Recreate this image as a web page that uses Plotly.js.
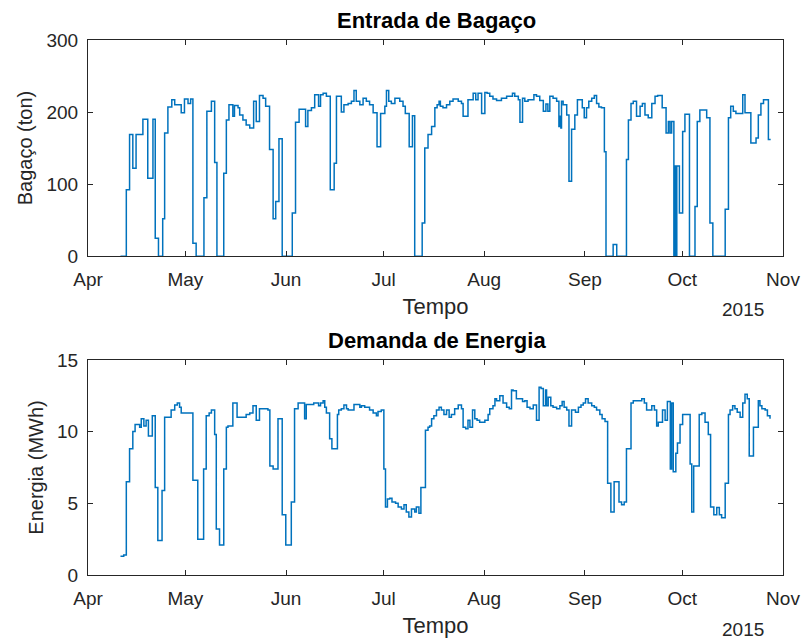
<!DOCTYPE html>
<html>
<head>
<meta charset="utf-8">
<script src="https://cdn.plot.ly/plotly-3.0.1.min.js"></script>
<style>
  html, body { margin: 0; padding: 0; background: #ffffff; }
  #grafico { width: 805px; height: 643px; }
</style>
</head>
<body>
<div id="grafico"></div>
<script>
// Dias contados a partir de 1 de abril de 2015 (instante de cada mudança de nível)
const diasBagaco = [
  10.0, 11.8, 12.8, 13.8, 14.8, 16.9, 18.4, 20.0, 20.7, 21.7, 23.0, 23.6, 24.6, 25.8, 26.7, 28.7, 29.7, 30.8, 31.6, 32.3,
  33.3, 35.7, 36.6, 38.0, 39.0, 39.7, 41.8, 42.6, 43.4, 44.6, 45.1, 46.2, 46.7, 47.7, 48.7, 49.8, 51.0, 51.8, 52.8, 53.9,
  54.7, 55.9, 57.0, 57.8, 58.8, 59.8, 62.9, 63.9, 65.0, 67.0, 67.7, 68.8, 69.8, 71.0, 71.6, 72.4, 73.4, 74.6, 75.8, 76.5,
  78.0, 78.8, 80.1, 81.1, 81.9, 82.6, 83.7, 84.7, 85.7, 86.7, 87.8, 89.0, 90.1, 91.4, 91.9, 92.6, 93.4, 94.5, 96.0, 97.0,
  97.7, 98.9, 99.9, 100.6, 102.9, 103.7, 104.7, 105.8, 106.8, 107.5, 108.1, 108.5, 109.3, 110.4, 111.4, 112.4, 114.0, 115.0, 115.5, 117.0,
  118.6, 119.4, 120.1, 121.2, 122.2, 122.9, 123.7, 124.7, 125.8, 127.3, 128.9, 130.7, 131.4, 132.5, 133.0, 133.8, 134.5, 135.5, 137.3, 138.1,
  139.1, 140.2, 141.0, 141.6, 142.2, 143.2, 144.3, 145.0, 145.3, 145.6, 145.8, 146.3, 147.4, 148.1, 148.9, 149.9, 150.7, 152.2, 152.8,
  153.5, 154.2, 155.1, 155.9, 156.6, 157.3, 158.1, 159.0, 159.5, 161.7, 162.8, 165.8, 166.4, 167.2, 167.9, 168.9, 170.0, 170.7, 171.5, 172.5,
  173.6, 174.6, 175.4, 176.8, 178.0, 178.7, 179.2, 179.7, 180.4, 180.7, 181.0, 181.3, 182.1, 183.1, 183.8, 185.2, 186.9,
  187.6, 188.4, 190.5, 191.5, 192.4, 196.2, 197.2, 197.9, 198.7, 199.5, 201.6, 202.3, 204.1, 205.7, 206.4, 207.2, 208.0, 209.5, 210.2
];
// Entrada de bagaço (ton)
const bagaco = [
  0, 92, 169, 122, 169, 190, 108, 190, 25, 0, 52, 171, 207, 217, 210, 199, 218, 212, 218, 18,
  0, 81, 201, 215, 130, 0, 115, 189, 210, 194, 209, 206, 196, 189, 182, 178, 215, 187, 223, 219,
  208, 148, 52, 76, 163, 0, 60, 186, 204, 180, 202, 206, 224, 208, 224, 226, 222, 92, 129, 222,
  200, 210, 212, 215, 230, 215, 210, 219, 215, 210, 199, 152, 198, 208, 230, 215, 212, 219, 215, 208,
  198, 152, 195, 0, 46, 150, 169, 180, 206, 210, 215, 208, 206, 210, 215, 218, 215, 212, 194, 217,
  226, 217, 226, 198, 227, 226, 222, 218, 216, 219, 222, 226, 222, 217, 186, 219, 215, 217, 224, 222,
  216, 201, 211, 201, 222, 219, 215, 180, 194, 178, 215, 210, 196, 104, 176, 196, 217, 206, 192,
  206, 215, 219, 223, 212, 207, 206, 145, 0, 16, 0, 134, 189, 212, 215, 194, 208, 212, 196, 192,
  212, 222, 223, 206, 171, 187, 171, 187, 0, 125, 0, 125, 60, 173, 197, 0, 69,
  187, 203, 192, 46, 0, 65, 192, 208, 201, 198, 224, 199, 157, 164, 196, 212, 217, 162, 162
];

const diasEnergia = [
  10.0, 11.0, 11.8, 12.8, 13.8, 14.5, 15.9, 16.4, 17.2, 17.9, 18.6, 19.8, 20.7, 21.5, 22.8, 23.6, 25.6, 26.7, 27.5, 28.2,
  28.7, 32.3, 33.8, 35.6, 36.4, 37.3, 38.0, 39.0, 39.5, 40.5, 41.8, 42.6, 43.1, 44.6, 45.9, 48.7, 49.8, 50.8, 51.8, 52.8,
  55.4, 56.0, 57.0, 58.5, 59.8, 60.9, 62.6, 63.6, 64.7, 66.7, 67.2, 69.5, 71.0, 71.6, 72.4, 72.9, 73.4, 74.4, 75.1, 76.8,
  77.2, 78.0, 78.8, 79.6, 80.1, 81.9, 83.7, 84.2, 85.2, 86.7, 87.8, 88.8, 89.3, 90.3, 91.1, 91.6, 92.2, 92.9, 93.6, 94.7,
  95.5, 96.5, 97.3, 98.0, 98.8, 99.6, 100.6, 101.1, 101.9, 102.5, 103.9, 104.7, 105.2, 105.8, 106.5, 107.3, 108.1, 108.8, 109.6, 110.4,
  111.2, 111.9, 112.9, 114.0, 115.0, 115.5, 116.3, 117.0, 117.6, 118.4, 119.1, 119.8, 120.6, 122.2, 123.2, 123.7, 124.7, 125.3, 125.8, 126.8,
  127.8, 128.9, 129.7, 130.4, 130.9, 131.9, 133.8, 134.5, 135.2, 136.1, 137.1, 138.1, 138.9, 139.5, 140.2, 140.9, 141.2, 141.7, 142.5, 143.2,
  144.3, 145.3, 146.0, 146.6, 147.4, 148.1, 148.9, 150.1, 151.0, 151.8, 152.5, 153.2, 154.0, 155.1, 155.9, 156.6, 157.6, 158.3, 159.2, 160.0,
  161.0, 162.0, 163.5, 164.3, 165.1, 165.8, 167.2, 167.9, 170.5, 171.3, 172.0, 173.6, 174.4, 175.1, 175.6, 176.9, 177.7, 178.4, 179.3, 179.7,
  180.2, 181.0, 181.5, 182.3, 183.1, 185.4, 185.9, 186.5, 188.2, 189.0, 190.0, 191.0, 191.7, 192.7, 193.6, 194.4,
  195.1, 196.2, 197.2, 197.7, 198.5, 199.2, 199.9, 200.8, 201.6, 202.3, 203.0, 203.6, 204.9, 206.4, 206.9, 207.5, 208.5, 209.2, 210.0
];
// Demanda de energia (MWh)
const energia = [
  1.3, 1.4, 6.5, 8.8, 10.0, 10.5, 10.3, 10.9, 10.4, 10.8, 9.7, 11.1, 6.1, 2.4, 5.9, 11.0, 11.5, 11.85, 12.0, 11.7,
  11.3, 6.6, 2.5, 7.4, 11.1, 11.3, 11.5, 9.8, 3.2, 2.1, 7.4, 10.3, 10.4, 12.0, 11.0, 11.2, 11.3, 11.8, 10.8, 11.6,
  11.5, 7.6, 7.4, 10.9, 4.2, 2.1, 5.1, 11.6, 12.0, 10.9, 11.9, 12.0, 11.8, 12.0, 12.15, 11.7, 11.3, 9.5, 8.8, 11.2,
  11.5, 11.6, 11.85, 11.6, 11.5, 11.9, 11.7, 11.8, 11.7, 11.5, 11.3, 11.1, 11.4, 11.5, 7.4, 4.75, 5.3, 5.35, 5.1, 5.0,
  4.75, 4.6, 4.9, 4.4, 4.05, 4.6, 4.4, 4.75, 4.3, 6.1, 10.1, 10.3, 10.4, 10.9, 11.1, 11.5, 11.7, 11.5, 11.2, 11.5,
  11.0, 11.2, 11.6, 11.85, 11.6, 10.3, 10.2, 10.8, 10.3, 11.5, 10.9, 10.8, 10.65, 10.8, 11.2, 11.6, 11.8, 12.3, 12.15, 12.5,
  12.0, 11.7, 11.6, 12.9, 12.85, 12.3, 12.1, 12.15, 11.7, 11.6, 11.85, 10.8, 13.1, 13.0, 11.8, 12.9, 11.8, 12.4, 11.8, 11.7,
  11.6, 11.8, 12.1, 11.7, 11.5, 10.4, 11.5, 11.35, 11.7, 11.85, 12.0, 12.3, 12.0, 11.8, 11.7, 11.5, 11.2, 10.9, 10.7, 6.4,
  4.4, 6.5, 5.1, 4.9, 5.1, 8.8, 12.0, 12.15, 12.3, 12.0, 11.5, 11.8, 11.5, 10.4, 10.65, 11.5, 10.8, 12.1, 7.4, 12.0,
  7.2, 8.5, 9.2, 10.5, 11.2, 7.75, 4.4, 7.6, 11.2, 11.3, 10.65, 9.8, 4.75, 4.2, 4.7, 4.2,
  4.0, 6.4, 11.2, 11.5, 11.8, 11.6, 11.35, 11.0, 12.0, 12.6, 12.3, 8.3, 10.3, 12.15, 11.8, 11.6, 11.5, 11.1, 10.9
];

// Marcas do eixo do tempo
const inicioMeses = ['2015-04-01', '2015-05-01', '2015-06-01', '2015-07-01', '2015-08-01', '2015-09-01', '2015-10-01', '2015-11-01'];
const rotulosMeses = ['Apr', 'May', 'Jun', 'Jul', 'Aug', 'Sep', 'Oct', 'Nov'];
const ticksBagaco = [0, 100, 200, 300];
const ticksEnergia = [0, 5, 10, 15];

const origem = Date.UTC(2015, 3, 1);
const paraData = d => origem + d * 86400000;

const corLinha = '#0072BD';
const corEixo = '#262626';
const fonte = '"Liberation Sans", Arial, Helvetica, sans-serif';

const traces = [
  {
    x: diasBagaco.map(paraData), y: bagaco,
    type: 'scatter', mode: 'lines', line: { color: corLinha, width: 1.5, shape: 'hv' },
    xaxis: 'x', yaxis: 'y', hoverinfo: 'x+y'
  },
  {
    x: diasEnergia.map(paraData), y: energia,
    type: 'scatter', mode: 'lines', line: { color: corLinha, width: 1.5, shape: 'hv' },
    xaxis: 'x2', yaxis: 'y2', hoverinfo: 'x+y'
  }
];

function eixoTempo(anchor) {
  return {
    type: 'date', anchor: anchor, domain: [0, 1],
    range: ['2015-04-01', '2015-11-01'],
    tickmode: 'array', tickvals: inicioMeses, ticktext: rotulosMeses,
    ticks: 'inside', ticklen: 5, tickwidth: 1, tickcolor: corEixo,
    showline: true, linecolor: corEixo, linewidth: 1, mirror: 'ticks',
    showgrid: false, zeroline: false,
    tickfont: { family: fonte, size: 19, color: corEixo },
    ticklabelstandoff: 6,
    title: { text: 'Tempo', font: { family: fonte, size: 22, color: corEixo }, standoff: 9 }
  };
}

function eixoValor(anchor, domain, range, tickvals, titulo) {
  return {
    anchor: anchor, domain: domain, range: range,
    tickmode: 'array', tickvals: tickvals,
    ticks: 'inside', ticklen: 5, tickwidth: 1, tickcolor: corEixo,
    showline: true, linecolor: corEixo, linewidth: 1, mirror: 'ticks',
    showgrid: false, zeroline: false,
    tickfont: { family: fonte, size: 19, color: corEixo },
    ticklabelstandoff: 5,
    title: { text: titulo, font: { family: fonte, size: 20, color: corEixo }, standoff: 8 }
  };
}

const layout = {
  width: 805, height: 643,
  margin: { l: 88, r: 22, t: 40, b: 68 },
  paper_bgcolor: '#ffffff', plot_bgcolor: '#ffffff',
  showlegend: false,
  xaxis: eixoTempo('y'),
  yaxis: eixoValor('x', [0.596, 1], [0, 300], ticksBagaco, 'Bagaço (ton)'),
  xaxis2: eixoTempo('y2'),
  yaxis2: eixoValor('x2', [0, 0.402], [0, 15], ticksEnergia, 'Energia (MWh)'),
  annotations: [
    { text: '<b>Entrada de Bagaço</b>', xref: 'paper', yref: 'paper', x: 0.502, y: 1.037,
      xanchor: 'center', yanchor: 'middle', showarrow: false,
      font: { family: fonte, size: 22, color: '#000000' } },
    { text: '<b>Demanda de Energia</b>', xref: 'paper', yref: 'paper', x: 0.502, y: 0.439,
      xanchor: 'center', yanchor: 'middle', showarrow: false,
      font: { family: fonte, size: 22, color: '#000000' } },
    { text: '2015', xref: 'paper', yref: 'paper', x: 0.975, y: 0.497,
      xanchor: 'right', yanchor: 'middle', showarrow: false,
      font: { family: fonte, size: 19, color: corEixo } },
    { text: '2015', xref: 'paper', yref: 'paper', x: 0.975, y: -0.102,
      xanchor: 'right', yanchor: 'middle', showarrow: false,
      font: { family: fonte, size: 19, color: corEixo } }
  ]
};

Plotly.newPlot('grafico', traces, layout, { displayModeBar: false, staticPlot: true });
</script>
</body>
</html>
